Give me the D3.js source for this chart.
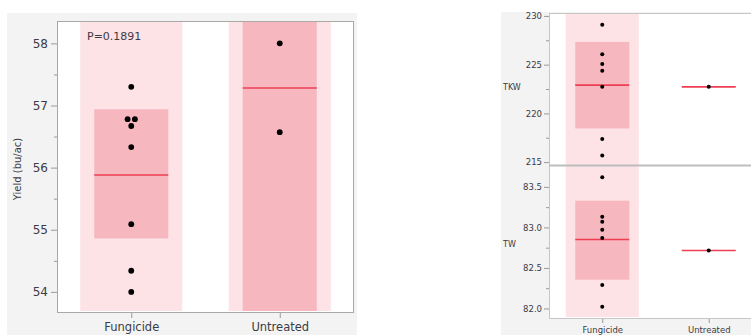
<!DOCTYPE html>
<html>
<head>
<meta charset="utf-8">
<script src="https://cdn.jsdelivr.net/npm/d3@7"></script>
<style>
  html, body { margin: 0; padding: 0; background: #ffffff; }
  svg { display: block; }
</style>
</head>
<body>
<svg id="chart" width="751" height="335"></svg>
<script>
// Treatment groups
const groups = ["Fungicide", "Untreated"];

// Yield (bu/ac)
const yieldFungicide = [57.30, 56.78, 56.78, 56.67, 56.33, 55.09, 54.34, 54.00];
const yieldUntreated = [58.00, 56.57];
const yieldMeans = [55.88, 57.28];
const yieldCiLow = [54.86, 48.20];
const yieldCiHigh = [56.94, 66.37];
const yieldTicks = [54, 55, 56, 57, 58];
const yieldMinorTicks = [54.5, 55.5, 56.5, 57.5];
const yieldDomain = [53.66, 58.36];
const pValueLabel = "P=0.1891";

// Thousand kernel weight
const tkwFungicide = [229.10, 226.07, 225.07, 224.38, 222.72, 217.37, 215.68];
const tkwUntreated = [222.72];
const tkwMeans = [222.90, 222.72];
const tkwCiLow = [218.45, null];
const tkwCiHigh = [227.33, null];
const tkwTicks = [215, 220, 225, 230];
const tkwMinorTicks = [217.5, 222.5, 227.5];
const tkwDomain = [214.6, 230.3];

// Test weight
const twFungicide = [83.62, 83.13, 83.07, 82.97, 82.87, 82.29, 82.02];
const twUntreated = [82.715];
const twMeans = [82.85, 82.715];
const twCiLow = [82.355, null];
const twCiHigh = [83.33, null];
const twTicks = [82.0, 82.5, 83.0, 83.5];
const twMinorTicks = [82.25, 82.75, 83.25];
const twDomain = [81.87, 83.77];

const COL = {
  bg: "#f3f3f3",
  frame: "#a8a8a8",
  frameLight: "#c6c6c6",
  band: "#fde2e6",
  box: "#f7b7bf",
  mean: "#ee3f55",
  dot: "#000000",
  text: "#3b3b45",
  tick: "#9a9a9a"
};
const FONT = "'DejaVu Sans', sans-serif";

const svg = d3.select("#chart");

// Draws one grouped-points panel: category bands, CI boxes, mean lines, points and y axis.
function drawPanel(cfg) {
  const g = svg.append("g");
  const x = d3.scalePoint().domain(groups).range([cfg.left, cfg.right]).padding(0.5);
  const y = d3.scaleLinear().domain(cfg.domain).range([cfg.bottom, cfg.top]);

  const clipId = "clip-" + cfg.id;
  g.append("clipPath").attr("id", clipId)
    .append("rect")
    .attr("x", cfg.left).attr("y", cfg.top + cfg.bandInsetTop)
    .attr("width", cfg.right - cfg.left)
    .attr("height", cfg.bottom - cfg.top - cfg.bandInsetTop - cfg.bandInsetBottom);

  // plot background
  g.append("rect")
    .attr("x", cfg.left).attr("y", cfg.top)
    .attr("width", cfg.right - cfg.left).attr("height", cfg.bottom - cfg.top)
    .attr("fill", "#ffffff");

  const marks = g.append("g").attr("clip-path", `url(#${clipId})`);

  // light category bands (only where a group has several observations)
  groups.forEach((name, i) => {
    if (cfg.values[i].length < 2) return;
    marks.append("rect")
      .attr("x", x(name) - cfg.bandW / 2)
      .attr("y", cfg.top)
      .attr("width", cfg.bandW)
      .attr("height", cfg.bottom - cfg.top)
      .attr("fill", COL.band);
  });

  // confidence boxes
  groups.forEach((name, i) => {
    if (cfg.ciLow[i] == null) return;
    const y0 = y(cfg.ciHigh[i]);
    const y1 = y(cfg.ciLow[i]);
    marks.append("rect")
      .attr("x", x(name) - cfg.boxW / 2)
      .attr("y", y0)
      .attr("width", cfg.boxW)
      .attr("height", y1 - y0)
      .attr("fill", COL.box);
  });

  // mean lines
  groups.forEach((name, i) => {
    marks.append("line")
      .attr("x1", x(name) - cfg.boxW / 2)
      .attr("x2", x(name) + cfg.boxW / 2)
      .attr("y1", y(cfg.means[i]))
      .attr("y2", y(cfg.means[i]))
      .attr("stroke", COL.mean)
      .attr("stroke-width", cfg.meanW);
  });

  // observations, tied values spread side by side
  groups.forEach((name, i) => {
    const counts = d3.rollup(cfg.values[i], v => v.length, d => d);
    const seen = new Map();
    const pts = cfg.values[i].map(v => {
      const n = counts.get(v);
      const k = seen.get(v) || 0;
      seen.set(v, k + 1);
      const off = (k - (n - 1) / 2) * (cfg.r * 2 + 1.5);
      return { v, off };
    });
    g.selectAll(null).data(pts).join("circle")
      .attr("cx", d => x(name) + d.off)
      .attr("cy", d => y(d.v))
      .attr("r", cfg.r)
      .attr("fill", COL.dot);
  });

  // frame
  g.append("rect")
    .attr("x", cfg.left + 0.5).attr("y", cfg.top + 0.5)
    .attr("width", cfg.right - cfg.left - 1).attr("height", cfg.bottom - cfg.top - 1)
    .attr("fill", "none")
    .attr("stroke", cfg.frameColor)
    .attr("stroke-width", 1);

  // y axis: major ticks with labels, minor ticks without
  const yAxis = d3.axisLeft(y).tickValues(cfg.ticks).tickSize(cfg.tickLen)
    .tickPadding(cfg.tickPad).tickFormat(cfg.fmt);
  const ya = g.append("g").attr("transform", `translate(${cfg.left},0)`).call(yAxis);
  ya.select(".domain").remove();
  ya.selectAll(".tick line").attr("stroke", COL.tick);
  ya.selectAll(".tick text")
    .attr("fill", COL.text)
    .style("font-family", FONT)
    .style("font-size", cfg.tickFont + "px");

  const yMinor = d3.axisLeft(y).tickValues(cfg.minor).tickSize(cfg.minorLen).tickFormat("");
  const ym = g.append("g").attr("transform", `translate(${cfg.left},0)`).call(yMinor);
  ym.select(".domain").remove();
  ym.selectAll(".tick line").attr("stroke", COL.tick);

  return { x, y, g };
}

// ---------- left chart: Yield ----------
svg.append("rect").attr("x", 7).attr("y", 13).attr("width", 350).attr("height", 322).attr("fill", COL.bg);

const yieldPanel = drawPanel({
  id: "yield", left: 57, right: 354, top: 21, bottom: 313,
  domain: yieldDomain,
  values: [yieldFungicide, yieldUntreated],
  means: yieldMeans, ciLow: yieldCiLow, ciHigh: yieldCiHigh,
  ticks: yieldTicks, minor: yieldMinorTicks, fmt: d3.format("d"),
  bandW: 102, boxW: 74, r: 2.9, meanW: 1.5,
  bandInsetTop: 1, bandInsetBottom: 2,
  tickLen: 6, minorLen: 3, tickPad: 3, tickFont: 12,
  frameColor: COL.frame
});

// x axis for yield
const xaL = svg.append("g").attr("transform", "translate(0,313)")
  .call(d3.axisBottom(yieldPanel.x).tickSize(5).tickPadding(4));
xaL.select(".domain").remove();
xaL.selectAll(".tick line").attr("stroke", COL.tick);
xaL.selectAll(".tick text")
  .attr("fill", COL.text)
  .attr("y", 18).attr("dy", "0")
  .style("font-family", FONT).style("font-size", "11.5px");

svg.append("text")
  .attr("transform", "translate(21,169) rotate(-90)")
  .attr("text-anchor", "middle")
  .attr("fill", COL.text)
  .style("font-family", FONT).style("font-size", "10px")
  .text("Yield (bu/ac)");

svg.append("text")
  .attr("x", 87).attr("y", 40)
  .attr("fill", COL.text)
  .style("font-family", FONT).style("font-size", "11px")
  .text(pValueLabel);

// ---------- right chart: TKW and TW ----------
svg.append("rect").attr("x", 501).attr("y", 12).attr("width", 250).attr("height", 323).attr("fill", COL.bg);

const tkwPanel = drawPanel({
  id: "tkw", left: 549, right: 762, top: 13, bottom: 166,
  domain: tkwDomain,
  values: [tkwFungicide, tkwUntreated],
  means: tkwMeans, ciLow: tkwCiLow, ciHigh: tkwCiHigh,
  ticks: tkwTicks, minor: tkwMinorTicks, fmt: d3.format("d"),
  bandW: 73, boxW: 54, r: 2, meanW: 1.6,
  bandInsetTop: 0, bandInsetBottom: 0,
  tickLen: 5, minorLen: 3, tickPad: 2, tickFont: 8.5,
  frameColor: COL.frameLight
});

const twPanel = drawPanel({
  id: "tw", left: 549, right: 762, top: 165, bottom: 319,
  domain: twDomain,
  values: [twFungicide, twUntreated],
  means: twMeans, ciLow: twCiLow, ciHigh: twCiHigh,
  ticks: twTicks, minor: twMinorTicks, fmt: d3.format(".1f"),
  bandW: 73, boxW: 54, r: 2, meanW: 1.6,
  bandInsetTop: 1, bandInsetBottom: 2,
  tickLen: 5, minorLen: 3, tickPad: 2, tickFont: 8.5,
  frameColor: COL.frameLight
});

// divider between the two stacked panels
svg.append("line")
  .attr("x1", 549).attr("x2", 751).attr("y1", 165.5).attr("y2", 165.5)
  .attr("stroke", "#bdbdbd").attr("stroke-width", 2);

const xaR = svg.append("g").attr("transform", "translate(0,319)")
  .call(d3.axisBottom(twPanel.x).tickSize(4).tickPadding(3));
xaR.select(".domain").remove();
xaR.selectAll(".tick line").attr("stroke", COL.tick);
xaR.selectAll(".tick text")
  .attr("fill", COL.text)
  .attr("y", 14).attr("dy", "0")
  .style("font-family", FONT).style("font-size", "8.5px");

svg.append("text")
  .attr("x", 503).attr("y", tkwPanel.y(222.7) + 3)
  .attr("fill", COL.text)
  .style("font-family", FONT).style("font-size", "8px")
  .text("TKW");

svg.append("text")
  .attr("x", 503).attr("y", twPanel.y(82.80) + 3)
  .attr("fill", COL.text)
  .style("font-family", FONT).style("font-size", "8px")
  .text("TW");
</script>
</body>
</html>
